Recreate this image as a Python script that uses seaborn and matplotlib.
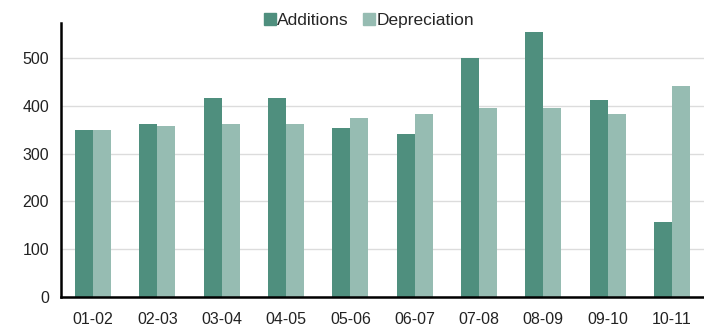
import numpy as np
import pandas as pd
import matplotlib
matplotlib.use("Agg")
import matplotlib.pyplot as plt
from matplotlib.ticker import FixedLocator
import seaborn as sns

years = ["01-02", "02-03", "03-04", "04-05", "05-06", "06-07", "07-08", "08-09", "09-10", "10-11"]
additions = [349, 362, 416, 416, 354, 341, 500, 554, 412, 157]
depreciation = [349, 358, 362, 362, 375, 383, 395, 395, 383, 441]
series_names = ["Additions", "Depreciation"]
colors = ["#4f8f7e", "#96bcb2"]

df = pd.DataFrame({
    "year": years * 2,
    "value": additions + depreciation,
    "series": [series_names[0]] * len(years) + [series_names[1]] * len(years),
})

sns.set_style("white")
plt.rcParams["font.family"] = ["Liberation Sans", "DejaVu Sans"]

fig = plt.figure(figsize=(7.04, 3.28), dpi=100)
ax = fig.add_axes([61 / 704, 1 - 297 / 328, 643 / 704, (297 - 23) / 328])

sns.barplot(data=df, x="year", y="value", hue="series", order=years,
            hue_order=series_names, palette=colors, width=0.56, gap=0,
            saturation=1, linewidth=0, ax=ax, legend=False)

ax.set_xlim(-0.5, len(years) - 0.5)
ax.set_ylim(0, 573)
ax.set_yticks([0, 100, 200, 300, 400, 500])
ax.yaxis.grid(True, color="#dcdcdc", linewidth=1)
ax.set_axisbelow(True)
ax.set_xlabel("")
ax.set_ylabel("")

for side in ["top", "right"]:
    ax.spines[side].set_visible(False)
for side in ["left", "bottom"]:
    ax.spines[side].set_color("black")
    ax.spines[side].set_linewidth(1.8)

# category boundaries carry the tick marks, labels sit at the centres
ax.xaxis.set_minor_locator(FixedLocator(np.arange(-0.5, len(years), 1.0)))
ax.tick_params(axis="x", which="major", length=0, pad=11, labelsize=11.5, colors="#222222")
ax.tick_params(axis="x", which="minor", length=5, width=1.8, color="black", direction="out")
ax.tick_params(axis="y", which="major", length=4, width=1.2, color="black",
               direction="out", labelsize=11.5, labelcolor="#222222", pad=4.5)

handles = [plt.Rectangle((0, 0), 1, 1, color=c) for c in colors]
fig.legend(handles, series_names, loc="center", bbox_to_anchor=(0.524, 0.938),
           ncol=2, frameon=False, fontsize=12.5, handlelength=0.7, handleheight=0.65,
           handletextpad=0.08, columnspacing=0.8, borderaxespad=0, borderpad=0)

fig.savefig("out.png", dpi=100)
